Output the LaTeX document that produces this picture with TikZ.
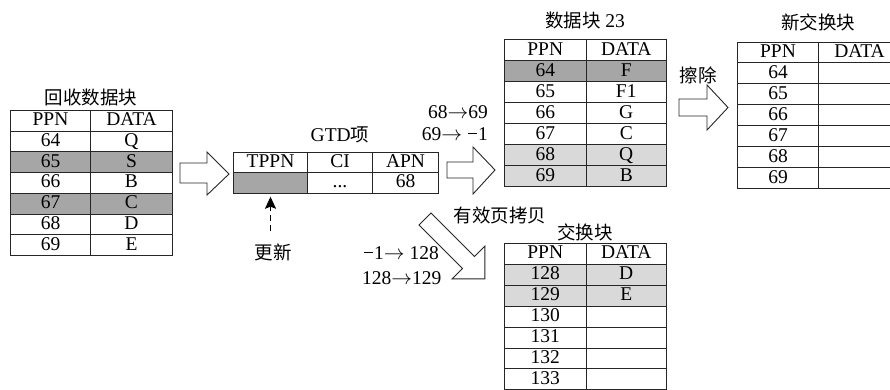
\documentclass[tikz,border=0pt]{standalone}
\usepackage{fontspec}
\setmainfont{Liberation Serif}
\newfontfamily\cjk{Noto Sans CJK SC}
\usetikzlibrary{arrows.meta,calc}
\definecolor{dkg}{HTML}{A6A6A6}
\definecolor{ltg}{HTML}{D9D9D9}
\newcommand\tabfont{\fontsize{19.5}{20}\selectfont}
\newcommand\cjkfont{\cjk\fontsize{18.5}{19}\selectfont}
\newcommand\ra{$\rightarrow$}
\tikzset{
  cell/.style={draw=black!85, line width=1pt, inner sep=0pt, anchor=north west,
    font=\tabfont, text height=14pt, text depth=4pt},
  lbl/.style={inner sep=0pt, font=\tabfont},
  clbl/.style={inner sep=0pt, font=\cjkfont},
  hollow/.style={draw=black!85, line width=0.9pt, fill=white, line join=miter},
  updarrow/.style={line width=1.6pt, dash pattern=on 6pt off 4pt,
    -{Stealth[length=12pt,width=11pt,inset=2pt]}}
}
% name, x-left, x-divider, x-right, y-top, row height, rows
\newcommand\mktab[7]{%
  \foreach \p/\d/\f [count=\i from 0] in {#7}{
    \node[cell, fill=\f, minimum width={(#3-#2)*1pt}, minimum height={#6*1pt}]
      (#1-\i-p) at ({#2},{#5+\i*#6}) {\p};
    \node[cell, fill=\f, minimum width={(#4-#3)*1pt}, minimum height={#6*1pt}]
      (#1-\i-d) at ({#3},{#5+\i*#6}) {\d};
  }}
\begin{document}
\begin{tikzpicture}[x=1pt,y=-1pt]
\useasboundingbox (0,0) rectangle (890,389);
\fill[white] (0,0) rectangle (890,389);
\clip (0,0) rectangle (890,389);

% tables
\mktab{ta}{10}{90}{172}{110}{20.71}{PPN/DATA/white, 64/Q/white, 65/S/dkg, 66/B/white, 67/C/dkg, 68/D/white, 69/E/white}
\mktab{tb}{504}{585.5}{666}{39.3}{20.96}{PPN/DATA/white, 64/F/dkg, 65/F1/white, 66/G/white, 67/C/white, 68/Q/ltg, 69/B/ltg}
\mktab{tc}{504}{585.5}{666}{243}{20.9}{PPN/DATA/white, 128/D/ltg, 129/E/ltg, 130/{}/white, 131/{}/white, 132/{}/white, 133/{}/white}
\mktab{td}{737}{818}{900}{41.5}{20.93}{PPN/DATA/white, 64/{}/white, 65/{}/white, 66/{}/white, 67/{}/white, 68/{}/white, 69/{}/white}

% GTD entry
\node[cell, minimum width=74pt, minimum height=20.5pt] (gtd-h1) at (233,151.7) {TPPN};
\node[cell, minimum width=65pt, minimum height=20.5pt] (gtd-h2) at (307,151.7) {CI};
\node[cell, minimum width=66pt, minimum height=20.5pt] (gtd-h3) at (372,151.7) {APN};
\node[cell, fill=dkg, minimum width=74pt, minimum height=20.5pt] (gtd-t) at (233,172.2) {};
\node[cell, minimum width=65pt, minimum height=20.5pt] (gtd-c) at (307,172.2) {...};
\node[cell, minimum width=66pt, minimum height=20.5pt] (gtd-a) at (372,172.2) {68};

% titles and labels
\node[clbl] (ta-title) at (91,97) {回收数据块};
\node[lbl] (tb-title) at (585,20) {{\cjkfont 数据块} 23};
\node[clbl] (td-title) at (818,22) {新交换块};
\node[clbl] (tc-title) at (585,232) {交换块};
\node[clbl] (copy) at (500,215) {有效页拷贝};
\node[clbl] (erase) at (698,75) {擦除};
\node[lbl] (gtd-title) at (340,135) {GTD{\cjkfont 项}};
\node[clbl] (upd) at (273,252) {更新};
\node[lbl, anchor=east] (m1) at (488,112) {68\ra 69};
\node[lbl, anchor=east] (m2) at (488,134) {69\ra\ −1};
\node[lbl, anchor=west] (m3) at (363,253) {−1\ra\ 128};
\node[lbl, anchor=west] (m4) at (362,278) {128\ra 129};

% hollow arrows
\draw[hollow] (180,163) -- (207,163) -- (207,152) -- (229,174) -- (207,195) -- (207,183) -- (180,183) -- cycle;
\draw[hollow] (447,162) -- (473,162) -- (473,147) -- (495,170) -- (473,194) -- (473,178) -- (447,178) -- cycle;
\draw[hollow] (679,99) -- (707,99) -- (707,85) -- (728,107.5) -- (707,130) -- (707,116) -- (679,116) -- cycle;
\draw[hollow] (419,225) -- (462.5,268.5) -- (452.2,278.8) -- (484.8,278.8) -- (484.8,246.2) -- (474.5,256.5) -- (431,213) -- cycle;

% update arrow
\coordinate (dtail) at ($(gtd-t.south |- upd.north)+(0,-12)$);
\coordinate (dtip) at ($(gtd-t.south)+(0,3)$);
\draw[updarrow] (dtail) -- (dtip);
\end{tikzpicture}
\end{document}
